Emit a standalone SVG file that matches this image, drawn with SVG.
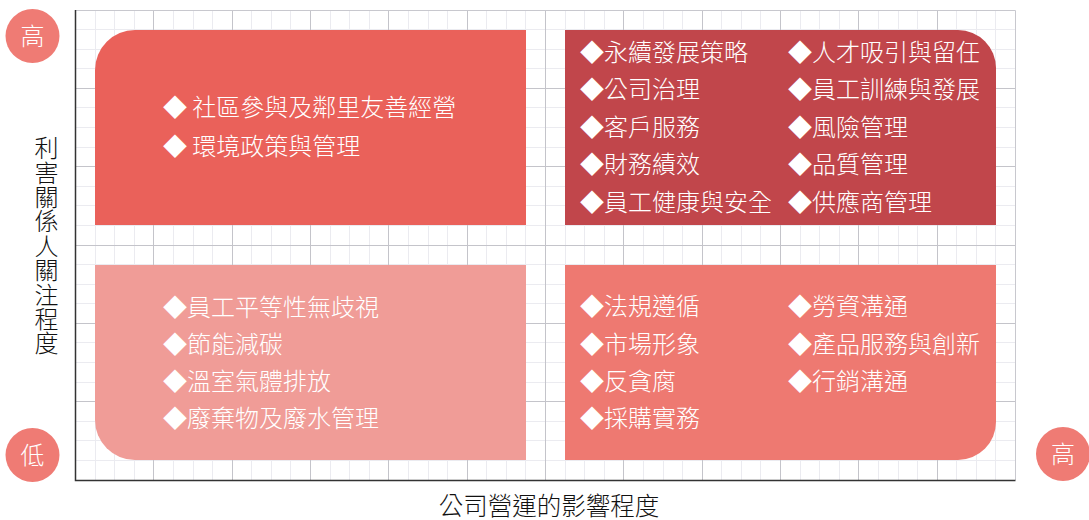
<svg xmlns="http://www.w3.org/2000/svg" width="1089" height="520" viewBox="0 0 1089 520">
<style>
.minor{stroke:#EBEBF0;stroke-width:1;fill:none}
.major{stroke:#C4C4CA;stroke-width:1;fill:none}
.item{font-family:"Noto Sans CJK TC","Noto Sans CJK SC",sans-serif;font-size:24px;font-weight:300;fill:#FFFFFF}
.axis{font-family:"Noto Sans CJK TC","Noto Sans CJK SC",sans-serif;font-size:24.5px;font-weight:300;fill:#111111}
.vaxis{font-family:"Noto Sans CJK TC","Noto Sans CJK SC",sans-serif;font-size:24px;font-weight:300;fill:#111111;writing-mode:vertical-rl;letter-spacing:0.4px}
.badge{fill:#EF7B74}
.badgeText{font-family:"Noto Sans CJK TC","Noto Sans CJK SC",sans-serif;font-size:24px;font-weight:300;fill:#FFFFFF;text-anchor:middle}
</style>
<rect width="1089" height="520" fill="#FFFFFF"/>
<g id="grid">
<path class="minor" d="M95.5,10V480M114.5,10V480M134.5,10V480M173.5,10V480M193.5,10V480M212.5,10V480M251.5,10V480M271.5,10V480M290.5,10V480M330.5,10V480M349.5,10V480M369.5,10V480M408.5,10V480M428.5,10V480M447.5,10V480M486.5,10V480M506.5,10V480M525.5,10V480M565.5,10V480M584.5,10V480M604.5,10V480M643.5,10V480M663.5,10V480M682.5,10V480M721.5,10V480M741.5,10V480M760.5,10V480M800.5,10V480M819.5,10V480M839.5,10V480M878.5,10V480M898.5,10V480M917.5,10V480M956.5,10V480M976.5,10V480M995.5,10V480"/>
<path class="minor" d="M75,29.5H1015M75,49.5H1015M75,68.5H1015M75,107.5H1015M75,127.5H1015M75,147.5H1015M75,186.5H1015M75,205.5H1015M75,225.5H1015M75,264.5H1015M75,284.5H1015M75,303.5H1015M75,342.5H1015M75,362.5H1015M75,382.5H1015M75,421.5H1015M75,440.5H1015M75,460.5H1015"/>
<path class="major" d="M153.5,10V480M232.5,10V480M310.5,10V480M388.5,10V480M467.5,10V480M545.5,10V480M623.5,10V480M702.5,10V480M780.5,10V480M858.5,10V480M937.5,10V480"/>
<path class="major" d="M75,88.5H1015M75,166.5H1015M75,245.5H1015M75,323.5H1015M75,401.5H1015"/>
<path d="M75,10.5H1015.5V480" stroke="#C8C8CE" stroke-width="1" fill="none"/>
<path d="M75.5,10V480.5H1015.5" stroke="#333333" stroke-width="1.5" fill="none"/>
</g>
<g id="q-top-left">
<path d="M95,225V70A40,40 0 0 1 135,30H526V225Z" fill="#EA615A"/>
<text class="item" x="163" y="116">◆ 社區參與及鄰里友善經營</text>
<text class="item" x="163" y="155">◆ 環境政策與管理</text>
</g>
<g id="q-top-right">
<path d="M565,30H958A38,38 0 0 1 996,68V225H565Z" fill="#C1464B"/>
<text class="item" x="580" y="61">◆永續發展策略</text>
<text class="item" x="580" y="98">◆公司治理</text>
<text class="item" x="580" y="136">◆客戶服務</text>
<text class="item" x="580" y="173">◆財務績效</text>
<text class="item" x="580" y="211">◆員工健康與安全</text>
<text class="item" x="788" y="61">◆人才吸引與留任</text>
<text class="item" x="788" y="98">◆員工訓練與發展</text>
<text class="item" x="788" y="136">◆風險管理</text>
<text class="item" x="788" y="173">◆品質管理</text>
<text class="item" x="788" y="211">◆供應商管理</text>
</g>
<g id="q-bottom-left">
<path d="M95,265H526V460H135A40,40 0 0 1 95,420Z" fill="#F09C97"/>
<text class="item" x="163" y="316">◆員工平等性無歧視</text>
<text class="item" x="163" y="353">◆節能減碳</text>
<text class="item" x="163" y="390">◆溫室氣體排放</text>
<text class="item" x="163" y="427">◆廢棄物及廢水管理</text>
</g>
<g id="q-bottom-right">
<path d="M565,265H996V422A38,38 0 0 1 958,460H565Z" fill="#EE7971"/>
<text class="item" x="580" y="315">◆法規遵循</text>
<text class="item" x="580" y="353">◆市場形象</text>
<text class="item" x="580" y="390">◆反貪腐</text>
<text class="item" x="580" y="427">◆採購實務</text>
<text class="item" x="788" y="315">◆勞資溝通</text>
<text class="item" x="788" y="353">◆產品服務與創新</text>
<text class="item" x="788" y="390">◆行銷溝通</text>
</g>
<g id="badge-y-high">
<circle class="badge" cx="32.5" cy="36" r="27"/>
<text class="badgeText" x="32.5" y="45">高</text>
</g>
<g id="badge-low">
<circle class="badge" cx="32.5" cy="455" r="27"/>
<text class="badgeText" x="32.5" y="464">低</text>
</g>
<g id="badge-x-high">
<circle class="badge" cx="1063" cy="454" r="27"/>
<text class="badgeText" x="1063" y="463">高</text>
</g>
<g id="y-axis-label">
<text class="vaxis" x="46.5" y="136">利害關係人關注程度</text>
</g>
<g id="x-axis-label">
<text class="axis" x="549" y="515" text-anchor="middle">公司營運的影響程度</text>
</g>
</svg>
